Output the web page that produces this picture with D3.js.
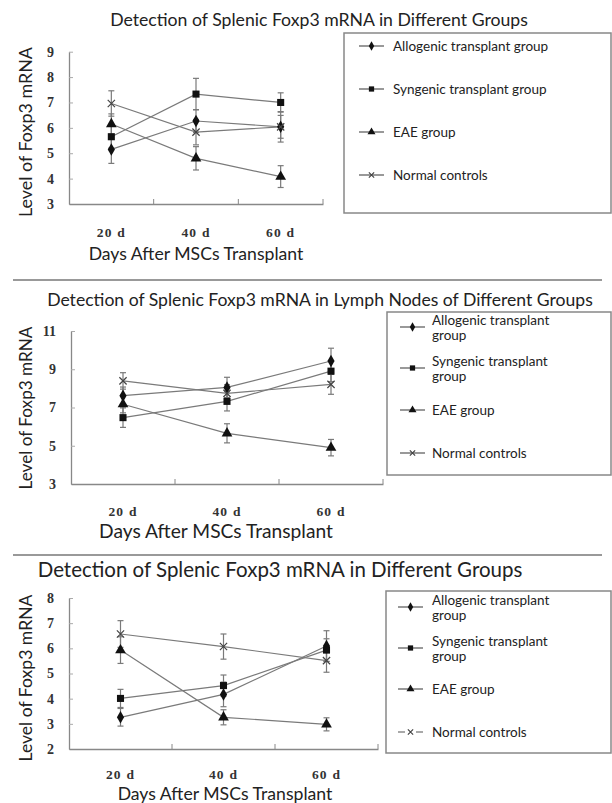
<!DOCTYPE html>
<html>
<head>
<meta charset="utf-8">
<script src="https://cdn.jsdelivr.net/npm/d3@7"></script>
<style>
  body { margin: 0; background: #fff; }
  svg { display: block; }
  .sans { font-family: Lato, "Noto Sans", sans-serif; fill: #222; }
  .tick-lbl { font-family: "Liberation Serif", "Times New Roman", serif; font-weight: bold; fill: #333; }
</style>
</head>
<body>
<svg id="chart"></svg>
<script>
// categories and series
const days = ['20 d', '40 d', '60 d']
const seriesNames = ['Allogenic transplant group', 'Syngenic transplant group', 'EAE group', 'Normal controls']
const seriesWrapped = [['Allogenic transplant', 'group'], ['Syngenic transplant', 'group'], ['EAE group'], ['Normal controls']]

// panel 1: spleen
const spleenTitle = 'Detection of Splenic Foxp3 mRNA in Different Groups'
const spleenTicks = [3, 4, 5, 6, 7, 8, 9]
const spleenMeans = [[5.15, 6.27, 6.04], [5.65, 7.33, 7.0], [6.15, 4.8, 4.08], [6.96, 5.83, 6.04]]
const spleenErrors = [[0.55, 0.45, 0.6], [0.45, 0.62, 0.38], [0.4, 0.46, 0.43], [0.5, 0.5, 0.45]]

// panel 2: lymph nodes
const lymphTitle = 'Detection of Splenic Foxp3 mRNA in Lymph Nodes of Different Groups'
const lymphTicks = [3, 5, 7, 9, 11]
const lymphMeans = [[7.62, 8.05, 9.43], [6.47, 7.32, 8.9], [7.17, 5.65, 4.9], [8.39, 7.74, 8.21]]
const lymphErrors = [[0.45, 0.53, 0.67], [0.51, 0.5, 0.55], [0.45, 0.5, 0.43], [0.43, 0.45, 0.52]]

// panel 3
const thirdTitle = 'Detection of Splenic Foxp3 mRNA in Different Groups'
const thirdTicks = [2, 3, 4, 5, 6, 7, 8]
const thirdMeans = [[3.26, 4.17, 6.09], [4.01, 4.52, 5.93], [5.93, 3.26, 2.98], [6.57, 6.07, 5.51]]
const thirdErrors = [[0.35, 0.49, 0.61], [0.36, 0.42, 0.45], [0.53, 0.3, 0.26], [0.53, 0.5, 0.46]]

const xTitle = 'Days After MSCs Transplant'
const yTitle = 'Level of Foxp3 mRNA'

const W = 612, H = 803
const lineColor = '#7a7a7a'
const markColor = '#111'

const svg = d3.select('#chart').attr('width', W).attr('height', H)

// layout of each panel (pixel boxes)
const panels = [
    {
        title: spleenTitle, ticks: spleenTicks, means: spleenMeans, errors: spleenErrors, labels: seriesNames.map(s => [s]),
        left: 69, right: 323, top: 51.7, bottom: 204,
        titleX: 319, titleY: 26, titleW: 418,
        xTitleX: 196, xTitleY: 260, xTitleW: 215,
        yTitleY: 132, yTitleW: 170, tickLblY: 33,
        legend: {x: 344, y: 33, w: 267, h: 180, lineX: 359, textX: 393, rows: [46, 89, 132, 175]},
        dashedNormal: false
    },
    {
        title: lymphTitle, ticks: lymphTicks, means: lymphMeans, errors: lymphErrors, labels: seriesWrapped,
        left: 71, right: 383, top: 331, bottom: 484,
        titleX: 320, titleY: 306, titleW: 546,
        xTitleX: 216, xTitleY: 538, xTitleW: 234,
        yTitleY: 408, yTitleW: 163, tickLblY: 32,
        legend: {x: 387, y: 312, w: 224, h: 163, lineX: 400, textX: 432, rows: [327, 368, 410, 453]},
        dashedNormal: false
    },
    {
        title: thirdTitle, ticks: thirdTicks, means: thirdMeans, errors: thirdErrors, labels: seriesWrapped,
        left: 69, right: 378, top: 598, bottom: 749,
        titleX: 280, titleY: 577, titleW: 485,
        xTitleX: 225, xTitleY: 800, xTitleW: 215,
        yTitleY: 678, yTitleW: 167, tickLblY: 30,
        legend: {x: 386, y: 591, w: 225, h: 162, lineX: 398, textX: 432, rows: [607, 648, 689, 732]},
        dashedNormal: true
    }
]

// separators between panels
svg.selectAll('.sep')
    .data([280, 555])
    .join('line')
    .attr('x1', 13).attr('x2', 602)
    .attr('y1', d => d).attr('y2', d => d)
    .attr('stroke', '#999').attr('stroke-width', 2)

// shrink or grow a text so it takes the given width
function fitText(sel, width, base) {
    sel.attr('font-size', base)
    const len = sel.node().getComputedTextLength()
    sel.attr('font-size', base * width / len)
}

const symbols = [d3.symbolDiamond, d3.symbolSquare, d3.symbolTriangle, d3.symbolTimes]
const symbolSizes = [45, 50, 50, 36]

function marker(g, i, x, y, scale) {
    const path = g.append('path')
        .attr('d', d3.symbol(symbols[i], symbolSizes[i] * scale)())
        .attr('transform', `translate(${x},${y})`)
    if (i === 3) {
        path.attr('fill', 'none').attr('stroke', '#444').attr('stroke-width', 1.2)
    } else {
        path.attr('fill', markColor)
    }
}

panels.forEach(p => {
    const g = svg.append('g')

    const xScale = d3.scaleBand().domain(days).range([p.left, p.right])
    const yScale = d3.scaleLinear()
        .domain(d3.extent(p.ticks))
        .range([p.bottom, p.top])

    // titles
    const t = g.append('text').attr('class', 'sans')
        .attr('x', p.titleX).attr('y', p.titleY)
        .attr('text-anchor', 'middle').text(p.title)
    fitText(t, p.titleW, 16)

    const xt = g.append('text').attr('class', 'sans')
        .attr('x', p.xTitleX).attr('y', p.xTitleY)
        .attr('text-anchor', 'middle').text(xTitle)
    fitText(xt, p.xTitleW, 16)

    const yt = g.append('text').attr('class', 'sans')
        .attr('transform', `translate(25,${p.yTitleY}) rotate(-90)`)
        .attr('text-anchor', 'middle').attr('dominant-baseline', 'central')
        .text(yTitle)
    fitText(yt, p.yTitleW, 16)

    // y axis
    const yAxisG = g.append('g')
        .attr('transform', `translate(${p.left},0)`)
        .call(d3.axisLeft(yScale).tickValues(p.ticks).tickFormat(d3.format('d'))
            .tickSizeInner(-4).tickSizeOuter(0).tickPadding(15))
    yAxisG.select('.domain').attr('stroke', '#888').attr('stroke-width', 1.3)
    yAxisG.selectAll('.tick line').attr('stroke', '#aaa')
    yAxisG.selectAll('.tick text').attr('class', 'tick-lbl').attr('font-size', 14)

    // x axis
    const xAxisG = g.append('g')
        .attr('transform', `translate(0,${p.bottom})`)
        .call(d3.axisBottom(xScale).tickSize(0).tickPadding(p.tickLblY - 10))
    xAxisG.select('.domain').attr('stroke', '#888').attr('stroke-width', 1.3)
    xAxisG.selectAll('.tick text').attr('class', 'tick-lbl')
        .attr('font-size', 13.5).attr('letter-spacing', 1.2)
    // small upward ticks at category boundaries
    xAxisG.selectAll('.edge')
        .data(days)
        .join('line')
        .attr('x1', d => xScale(d) + xScale.bandwidth())
        .attr('x2', d => xScale(d) + xScale.bandwidth())
        .attr('y1', 0).attr('y2', -5)
        .attr('stroke', '#888')

    const cx = d => xScale(d) + xScale.bandwidth() / 2
    const line = d3.line().x((v, j) => cx(days[j])).y(v => yScale(v))

    // error bars
    p.means.forEach((vals, i) => {
        vals.forEach((v, j) => {
            const x = cx(days[j])
            const e = p.errors[i][j]
            const y1 = yScale(v + e), y2 = yScale(v - e)
            g.append('line').attr('x1', x).attr('x2', x).attr('y1', y1).attr('y2', y2)
                .attr('stroke', lineColor).attr('stroke-width', 1.2)
            ;[y1, y2].forEach(yy => g.append('line')
                .attr('x1', x - 3).attr('x2', x + 3).attr('y1', yy).attr('y2', yy)
                .attr('stroke', lineColor).attr('stroke-width', 1.2))
        })
    })

    // series lines
    g.selectAll('.series')
        .data(p.means)
        .join('path')
        .attr('class', 'series')
        .attr('d', line)
        .attr('fill', 'none')
        .attr('stroke', lineColor)
        .attr('stroke-width', 1.2)

    // markers
    p.means.forEach((vals, i) => {
        vals.forEach((v, j) => marker(g, i, cx(days[j]), yScale(v), 1))
    })

    // legend
    const L = p.legend
    g.append('rect')
        .attr('x', L.x).attr('y', L.y).attr('width', L.w).attr('height', L.h)
        .attr('fill', 'none').attr('stroke', '#888').attr('stroke-width', 1.5)

    p.labels.forEach((lines, i) => {
        const ry = L.rows[i]
        const ln = g.append('line')
            .attr('x1', L.lineX).attr('x2', L.lineX + 25)
            .attr('y1', ry).attr('y2', ry)
            .attr('stroke', '#555').attr('stroke-width', 1.2)
        if (i === 3 && p.dashedNormal) ln.attr('stroke-dasharray', '7,11')
        marker(g, i, L.lineX + 12.5, ry, 0.55)

        const top = ry - (lines.length > 1 ? 7 : 0)
        lines.forEach((s, k) => {
            g.append('text').attr('class', 'sans')
                .attr('font-size', 13.5)
                .attr('x', L.textX)
                .attr('y', top + k * 15)
                .attr('dy', '0.35em')
                .text(s)
        })
    })
})
</script>
</body>
</html>
